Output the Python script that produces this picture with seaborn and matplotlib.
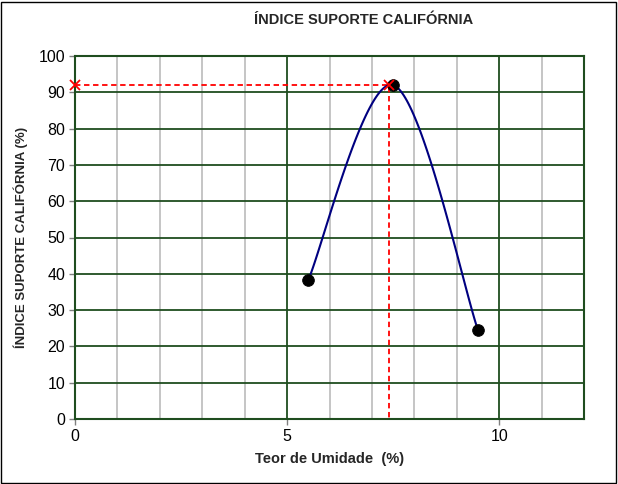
import numpy as np
import pandas as pd
import seaborn as sns
import matplotlib
matplotlib.use("Agg")
import matplotlib.pyplot as plt
from matplotlib.patches import Rectangle

# ensaio CBR - pontos medidos
umidade = [5.5, 7.5, 9.5]
cbr = [38.3, 92.0, 24.5]

# linha de leitura do valor maximo
leitura_x = [0.0, 7.4, 7.4]
leitura_y = [92.0, 92.0, 0.0]

titulo = "ÍNDICE SUPORTE CALIFÓRNIA"
xlabel = "Teor de Umidade  (%)"
ylabel = "ÍNDICE SUPORTE CALIFÓRNIA (%)"


def suavizar(x, y, n=60):
    # curva suavizada estilo Excel (bezier com pontos de controle a 1/6)
    p = np.column_stack([x, y]).astype(float)
    ext = np.vstack([p[0], p, p[-1]])
    out = []
    for i in range(len(p) - 1):
        p0, p1 = p[i], p[i + 1]
        c1 = p0 + (ext[i + 2] - ext[i]) / 6
        c2 = p1 - (ext[i + 3] - ext[i + 1]) / 6
        t = np.linspace(0, 1, n)[:, None]
        seg = (1 - t) ** 3 * p0 + 3 * (1 - t) ** 2 * t * c1 + 3 * (1 - t) * t ** 2 * c2 + t ** 3 * p1
        out.append(seg)
    out = np.vstack(out)
    return out[:, 0], out[:, 1]


sns.set_theme(style="white")
plt.rcParams['font.family'] = ['Liberation Sans', 'DejaVu Sans']

fig = plt.figure(figsize=(6.18, 4.84), dpi=100)
ax = fig.add_axes([75 / 618, 1 - 419 / 484, (584 - 75) / 618, (419 - 56) / 484])

verde = "#1f4d1f"

# grade
for xv in range(1, 12):
    if xv % 5 != 0:
        ax.axvline(xv, color="#c0c0c0", lw=1.3, zorder=0)
for xv in [5, 10]:
    ax.axvline(xv, color=verde, lw=1.3, zorder=1)
for yv in range(10, 100, 10):
    ax.axhline(yv, color=verde, lw=1.3, zorder=1)

sx, sy = suavizar(umidade, cbr)
curva = pd.DataFrame({"x": sx, "y": sy})
sns.lineplot(data=curva, x="x", y="y", sort=False, estimator=None, color="#000080", lw=1.5, ax=ax, zorder=3)

pontos = pd.DataFrame({"umidade": umidade, "cbr": cbr})
sns.scatterplot(data=pontos, x="umidade", y="cbr", color="black", s=70, edgecolor="black", ax=ax, zorder=4)

leitura = pd.DataFrame({"x": leitura_x, "y": leitura_y})
sns.lineplot(data=leitura, x="x", y="y", sort=False, estimator=None, color="red", lw=1.3,
             ls=(0, (3, 2)), ax=ax, zorder=2)
ax.plot(leitura_x[:2], leitura_y[:2], ls="none", marker="x", color="red", ms=7, mew=1.3, zorder=5, clip_on=False)

ax.set_xlim(0, 12)
ax.set_ylim(0, 100)
ax.set_xticks([0, 5, 10])
ax.set_yticks(range(0, 101, 10))
for s in ax.spines.values():
    s.set_color(verde)
    s.set_linewidth(1.5)
ax.tick_params(axis="both", which="both", direction="out", length=4, width=1, color="#808080",
               labelsize=11.5, labelcolor="black", pad=3, bottom=True, left=True)
ax.set_xlabel(xlabel, fontsize=10.5, fontweight="bold", labelpad=6)
ax.set_ylabel(ylabel, fontsize=9.5, fontweight="bold", labelpad=8)

fig.text(364 / 618, 1 - 20 / 484, titulo, ha="center", va="center", fontsize=10.5, fontweight="bold")

fig.patches.append(Rectangle((1 / 618, 1 / 484), 615 / 618, 481 / 484, transform=fig.transFigure,
                             fill=False, edgecolor="black", lw=1))

fig.savefig("out.png", dpi=100)
